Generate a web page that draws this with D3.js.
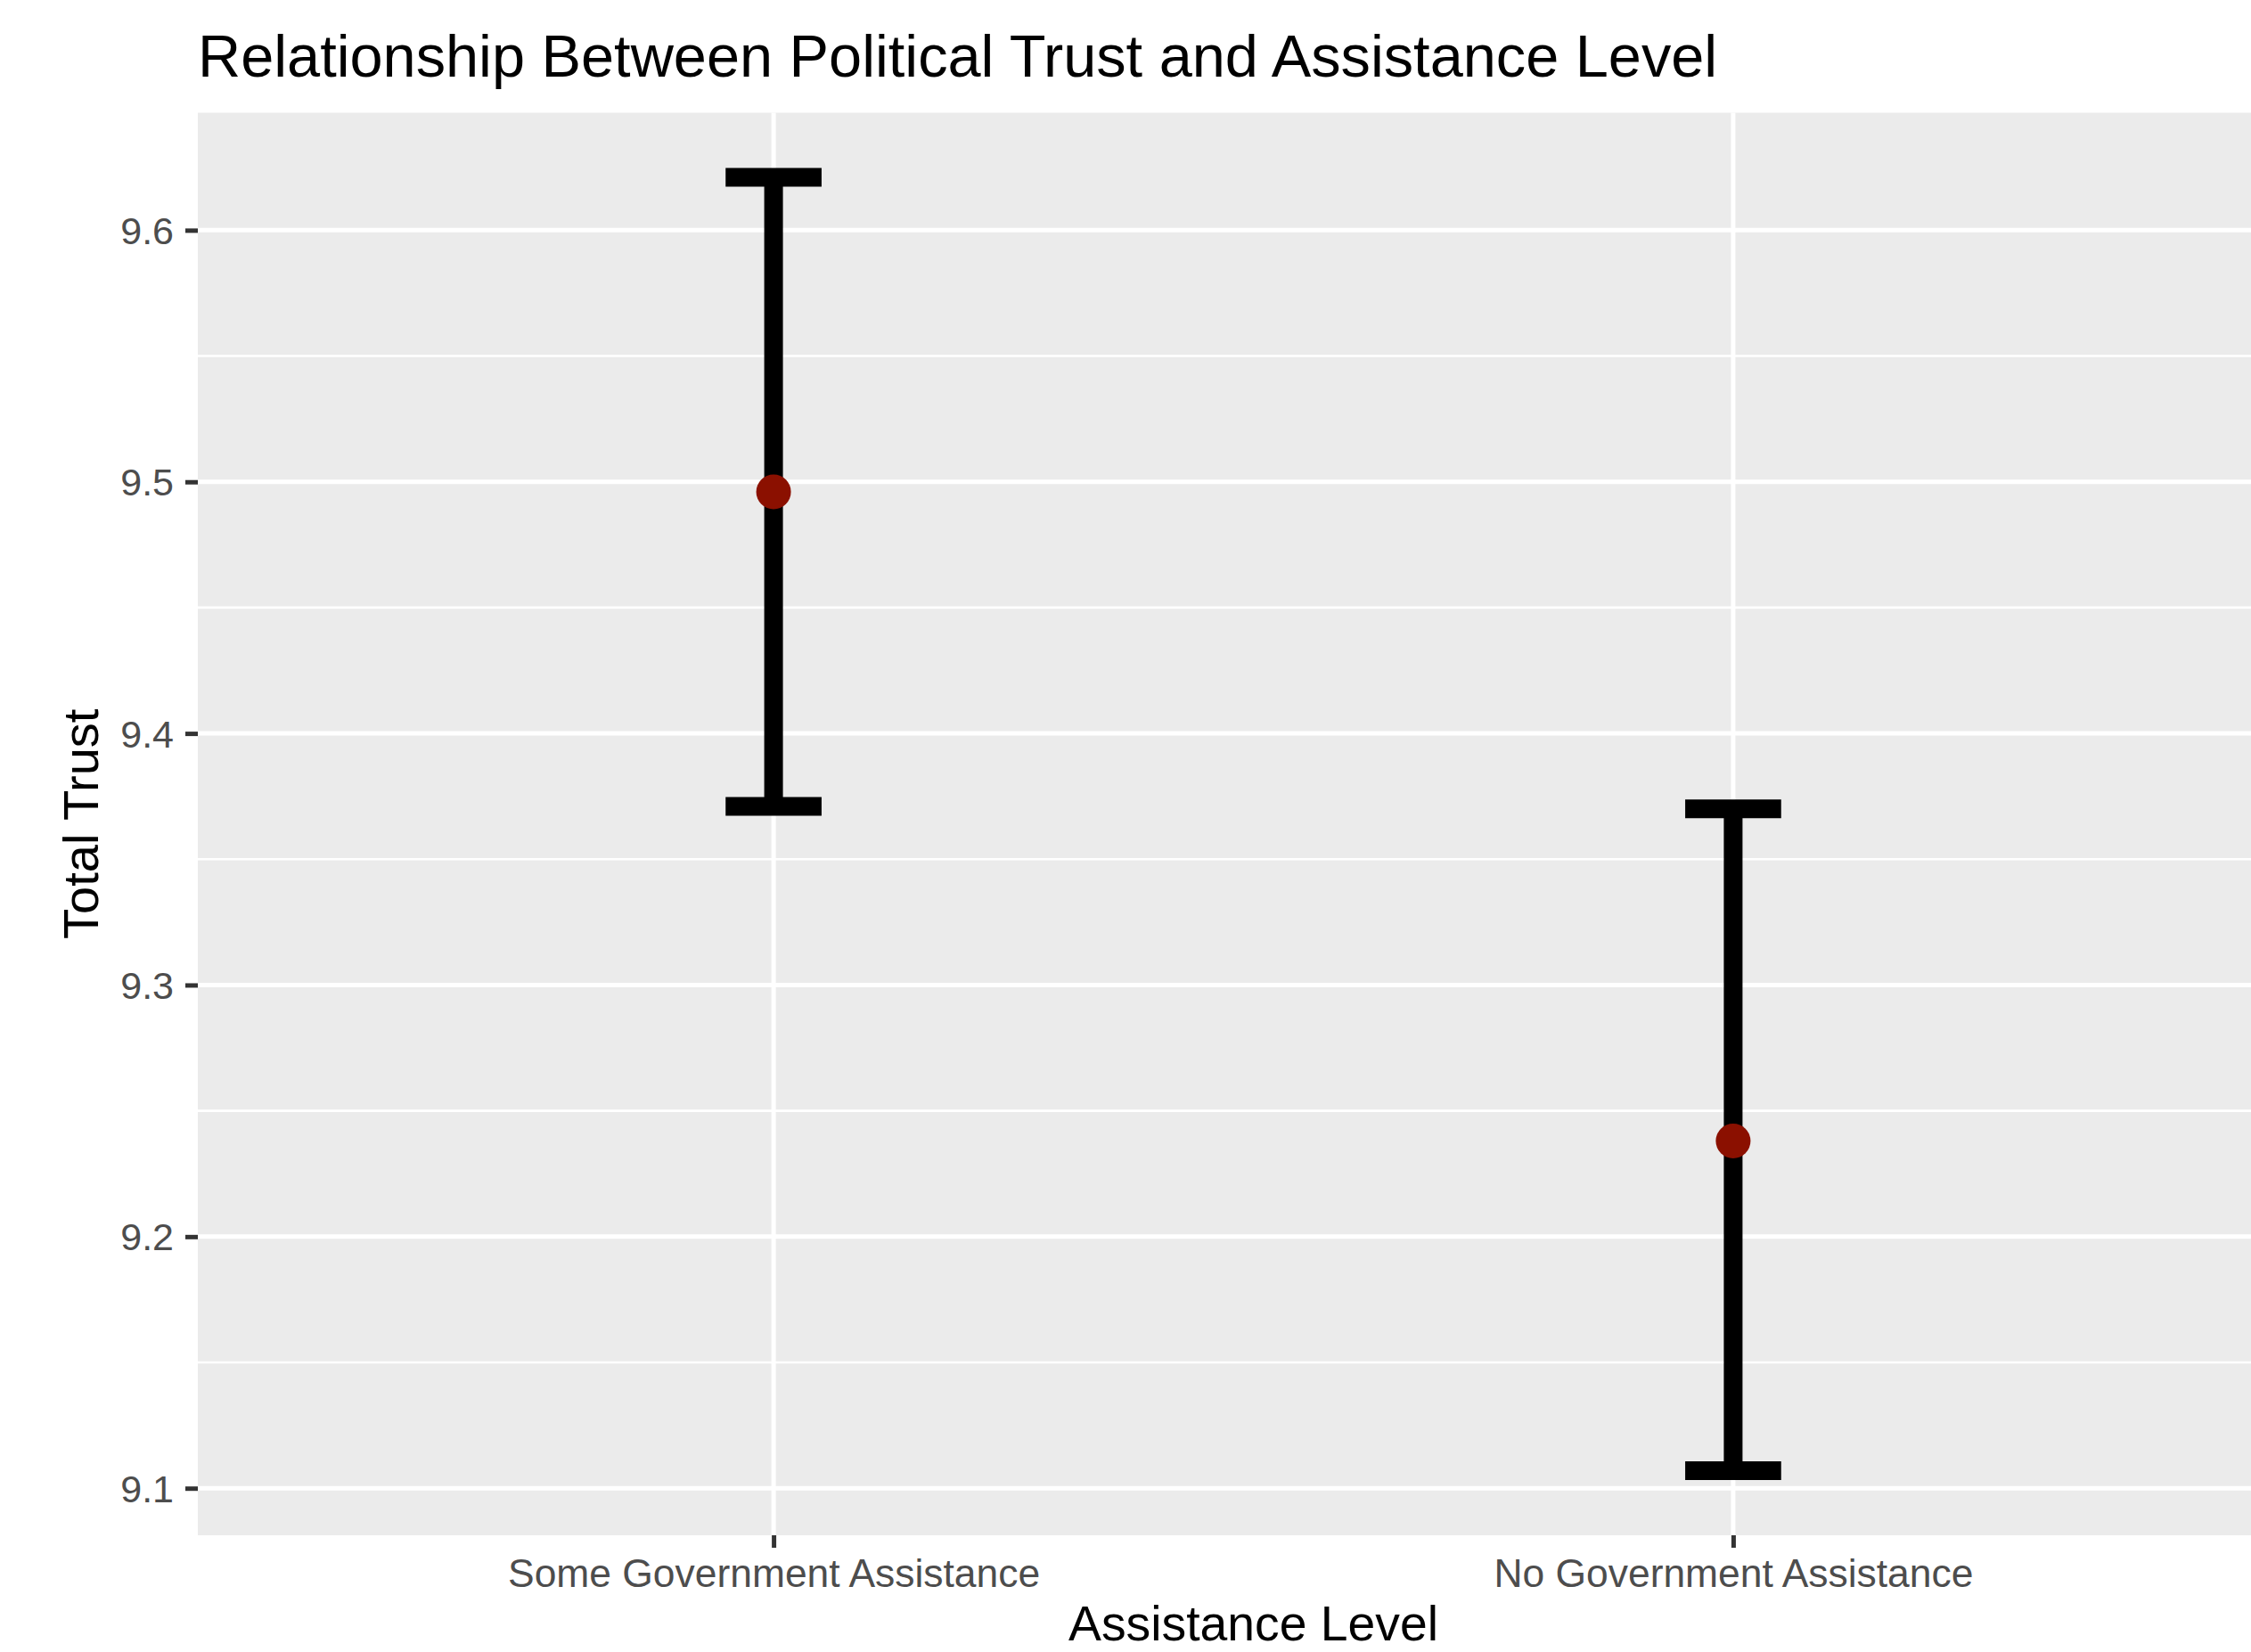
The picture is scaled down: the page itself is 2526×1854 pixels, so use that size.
<!DOCTYPE html>
<html>
<head>
<meta charset="utf-8">
<script src="https://cdn.jsdelivr.net/npm/d3@7"></script>
<style>
	body { margin: 0; background: #fff; }
	svg text { font-family: "Liberation Sans", Arial, Helvetica, sans-serif; }
</style>
</head>
<body>
<svg id="chart"></svg>
<script>
// data
var categories = ["Some Government Assistance", "No Government Assistance"];
var means = [9.496, 9.238];
var lower = [9.371, 9.107];
var upper = [9.621, 9.370];
var yTicks = [9.1, 9.2, 9.3, 9.4, 9.5, 9.6];
var yMinor = [9.15, 9.25, 9.35, 9.45, 9.55];

var W = 2526, H = 1854;
var panel = { left: 222, top: 126.5, right: 2591, bottom: 1723 };

var svg = d3.select("#chart").attr("width", W).attr("height", H);

// setup x (discrete, ggplot style 0.6 expansion)
var xScale = d3.scalePoint()
	.domain(categories)
	.range([panel.left, panel.right])
	.padding(0.6);
var step = xScale.step();

// setup y, limits with 5% expansion around the bars
var lo = d3.min(lower), hi = d3.max(upper), pad = (hi - lo) * 0.05;
var yScale = d3.scaleLinear()
	.domain([lo - pad, hi + pad])
	.range([panel.bottom, panel.top]);

var rows = categories.map(function(c, i) {
	return { cat: c, mean: means[i], lo: lower[i], hi: upper[i] };
});

// panel background
svg.append("rect")
	.attr("x", panel.left).attr("y", panel.top)
	.attr("width", panel.right - panel.left)
	.attr("height", panel.bottom - panel.top)
	.attr("fill", "#EBEBEB");

// grid
svg.selectAll(".minor").data(yMinor).enter().append("line")
	.attr("x1", panel.left).attr("x2", panel.right)
	.attr("y1", yScale).attr("y2", yScale)
	.attr("stroke", "#fff").attr("stroke-width", 2.6);

svg.selectAll(".major").data(yTicks).enter().append("line")
	.attr("x1", panel.left).attr("x2", panel.right)
	.attr("y1", yScale).attr("y2", yScale)
	.attr("stroke", "#fff").attr("stroke-width", 5);

svg.selectAll(".xmajor").data(categories).enter().append("line")
	.attr("x1", xScale).attr("x2", xScale)
	.attr("y1", panel.top).attr("y2", panel.bottom)
	.attr("stroke", "#fff").attr("stroke-width", 5);

// error bars
var capHalf = step * 0.05;
var eb = svg.selectAll(".eb").data(rows).enter().append("g");
eb.append("line")
	.attr("x1", d => xScale(d.cat)).attr("x2", d => xScale(d.cat))
	.attr("y1", d => yScale(d.lo)).attr("y2", d => yScale(d.hi))
	.attr("stroke", "#000").attr("stroke-width", 21);
eb.append("line")
	.attr("x1", d => xScale(d.cat) - capHalf).attr("x2", d => xScale(d.cat) + capHalf)
	.attr("y1", d => yScale(d.hi)).attr("y2", d => yScale(d.hi))
	.attr("stroke", "#000").attr("stroke-width", 21);
eb.append("line")
	.attr("x1", d => xScale(d.cat) - capHalf).attr("x2", d => xScale(d.cat) + capHalf)
	.attr("y1", d => yScale(d.lo)).attr("y2", d => yScale(d.lo))
	.attr("stroke", "#000").attr("stroke-width", 21);

// means
svg.selectAll(".dot").data(rows).enter().append("circle")
	.attr("cx", d => xScale(d.cat))
	.attr("cy", d => yScale(d.mean))
	.attr("r", 19.5)
	.attr("fill", "#8B1000");

// y axis
var yAxis = svg.append("g")
	.attr("transform", "translate(" + panel.left + ",0)")
	.call(d3.axisLeft(yScale).tickValues(yTicks).tickSize(14).tickPadding(13).tickFormat(d3.format(".1f")));
yAxis.select(".domain").remove();
yAxis.selectAll(".tick line").attr("stroke", "#333").attr("stroke-width", 5);
yAxis.selectAll(".tick text")
	.attr("fill", "#4D4D4D").attr("font-size", 43).attr("dy", "0.35em");

// x axis
var xAxis = svg.append("g")
	.attr("transform", "translate(0," + panel.bottom + ")")
	.call(d3.axisBottom(xScale).tickSize(14).tickPadding(12));
xAxis.select(".domain").remove();
xAxis.selectAll(".tick line").attr("stroke", "#333").attr("stroke-width", 5);
xAxis.selectAll(".tick text")
	.attr("fill", "#4D4D4D").attr("font-size", 44.4).attr("dy", "0.71em");

// titles
svg.append("text")
	.attr("x", panel.left).attr("y", 86)
	.attr("font-size", 66.7).attr("fill", "#000")
	.text("Relationship Between Political Trust and Assistance Level");

svg.append("text")
	.attr("x", (panel.left + panel.right) / 2).attr("y", 1841)
	.attr("text-anchor", "middle")
	.attr("font-size", 55.3).attr("fill", "#000")
	.text("Assistance Level");

svg.append("text")
	.attr("transform", "translate(110," + (panel.top + panel.bottom) / 2 + ") rotate(-90)")
	.attr("text-anchor", "middle")
	.attr("font-size", 56).attr("fill", "#000")
	.text("Total Trust");
</script>
</body>
</html>
